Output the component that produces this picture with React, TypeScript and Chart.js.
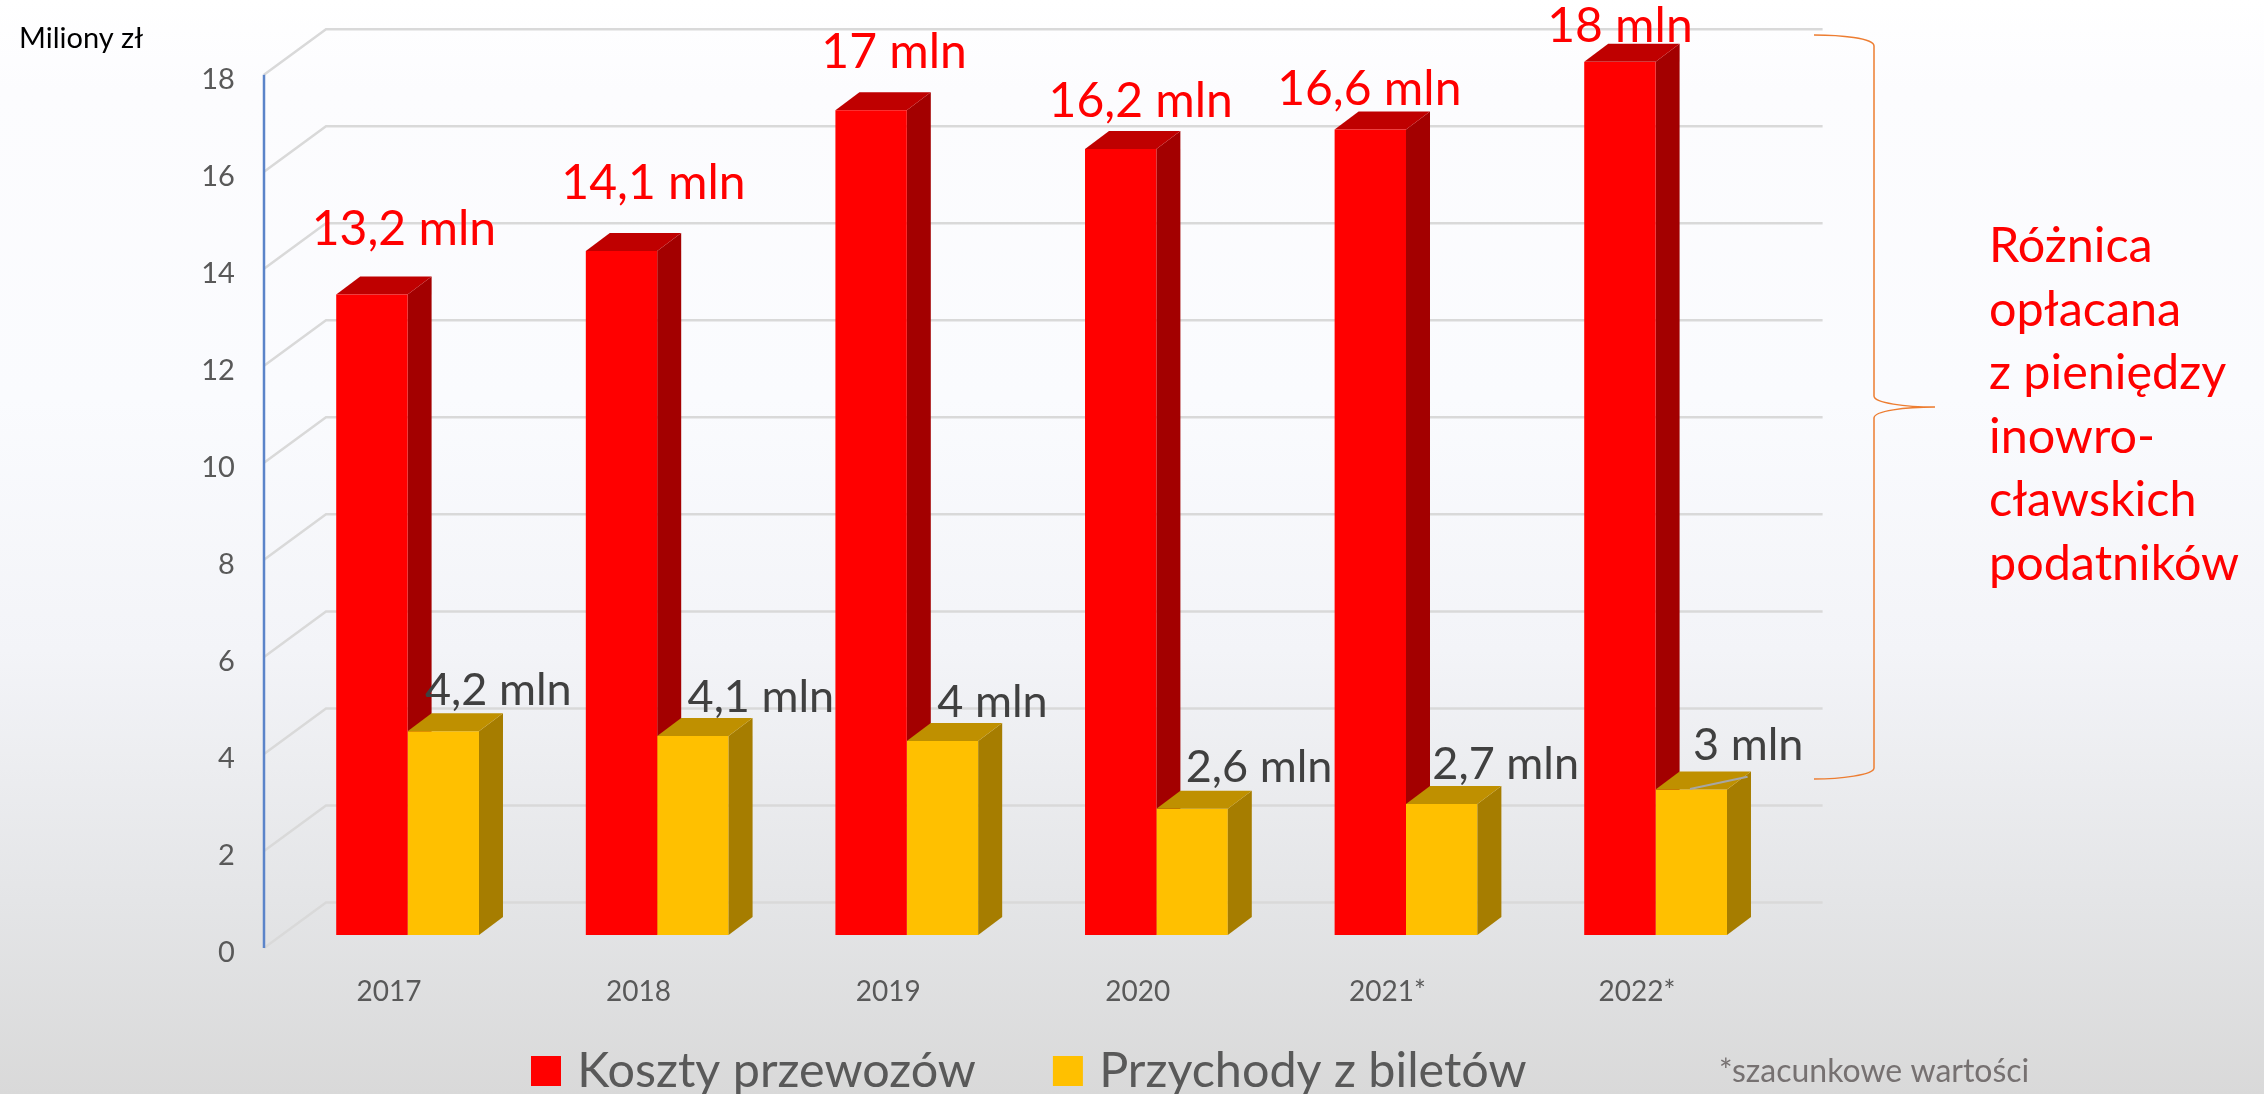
import React, { useEffect, useRef } from "react";
import { Chart, registerables } from "chart.js";

Chart.register(...registerables);

const categories = ["2017", "2018", "2019", "2020", "2021*", "2022*"];
const costs = [13.2, 14.1, 17, 16.2, 16.6, 18];
const revenues = [4.2, 4.1, 4, 2.6, 2.7, 3];
const costName = "Koszty przewozów";
const revenueName = "Przychody z biletów";
const unitLabel = "Miliony zł";
const footnote = "*szacunkowe wartości";
const noteLines = ["Różnica", "opłacana", "z pieniędzy", "inowro-", "cławskich", "podatników"];

const costLabelOffsets = [[32, -65], [32, -67], [23, -58], [20, -48], [-1, -40], [0, -35]];
const revenueLabelOffsets = [[55, -41], [68, -39], [50, -38], [67, -41], [64, -40], [57, -44]];

const W = 2264;
const H = 1094;
const FONT = "Lato, Carlito, sans-serif";
const PLOT = { left: 282.8, right: 1780.4, top: 61.7, bottom: 935 };
const DEPTH = { x: 24, y: 18 };
const LEGEND = { font: 48.5, pad: 85, x: 539, y: 1056, box: 30, slot: 14 };

const fmt = (v: number) => String(v).replace(".", ",") + " mln";

function poly(ctx: CanvasRenderingContext2D, pts: number[][], fill: string) {
  ctx.beginPath();
  pts.forEach(([x, y], i) => (i ? ctx.lineTo(x, y) : ctx.moveTo(x, y)));
  ctx.closePath();
  ctx.fillStyle = fill;
  ctx.fill();
}

function drawDepth(chart: any, idx: number, side: string, top: string) {
  const ctx = chart.ctx as CanvasRenderingContext2D;
  chart.getDatasetMeta(idx).data.forEach((b: any) => {
    const l = b.x - b.width / 2;
    const r = b.x + b.width / 2;
    poly(ctx, [[r, b.y], [r + DEPTH.x, b.y - DEPTH.y], [r + DEPTH.x, b.base - DEPTH.y], [r, b.base]], side);
    poly(ctx, [[l, b.y], [l + DEPTH.x, b.y - DEPTH.y], [r + DEPTH.x, b.y - DEPTH.y], [r, b.y]], top);
  });
}

const scene = {
  id: "scene",
  afterLayout(chart: any) {
    const lg = chart.legend;
    lg.left = LEGEND.x - LEGEND.pad;
    lg.right = W;
    lg.top = LEGEND.y - LEGEND.pad - (LEGEND.font - LEGEND.box) / 2;
    lg.bottom = H;
    // tick labels are clipped to the scale's box: let it reach the page bottom
    chart.scales.x.bottom = H;
  },
  beforeDatasetsDraw(chart: any) {
    const ctx = chart.ctx as CanvasRenderingContext2D;
    const y = chart.scales.y;
    const frontDy = 13;
    const backDy = -32.5;
    const wallFront = 264;
    const wallBack = 326;
    const wallRight = 1822.6;
    ctx.save();
    ctx.strokeStyle = "#D9D9D9";
    ctx.lineWidth = 2.5;
    y.ticks.forEach((t: any) => {
      const p = y.getPixelForValue(t.value);
      ctx.beginPath();
      ctx.moveTo(wallFront, p + frontDy);
      ctx.lineTo(wallBack, p + backDy);
      ctx.lineTo(wallRight, p + backDy);
      ctx.stroke();
    });
    ctx.strokeStyle = "#5B84C9";
    ctx.lineWidth = 2.5;
    ctx.beginPath();
    ctx.moveTo(wallFront, y.getPixelForValue(18) + frontDy);
    ctx.lineTo(wallFront, y.getPixelForValue(0) + frontDy);
    ctx.stroke();
    drawDepth(chart, 0, "#A30000", "#BF0000");
    ctx.restore();
  },
  afterDatasetsDraw(chart: any) {
    const ctx = chart.ctx as CanvasRenderingContext2D;
    ctx.save();
    drawDepth(chart, 1, "#A67D00", "#BF9000");

    // leader line of the last revenue label
    ctx.strokeStyle = "#A6A6A6";
    ctx.lineWidth = 2;
    ctx.beginPath();
    ctx.moveTo(1690, 789);
    ctx.lineTo(1747.6, 776.7);
    ctx.stroke();

    // value labels
    ctx.textAlign = "center";
    ctx.textBaseline = "middle";
    ctx.font = `48px ${FONT}`;
    chart.getDatasetMeta(0).data.forEach((b: any, i: number) => {
      ctx.fillStyle = "#FF0000";
      ctx.fillText(fmt(costs[i]), b.x + costLabelOffsets[i][0], b.y + costLabelOffsets[i][1]);
    });
    ctx.font = `45px ${FONT}`;
    chart.getDatasetMeta(1).data.forEach((b: any, i: number) => {
      ctx.fillStyle = "#404040";
      ctx.fillText(fmt(revenues[i]), b.x + revenueLabelOffsets[i][0], b.y + revenueLabelOffsets[i][1]);
    });

    // curly brace
    ctx.strokeStyle = "#ED7D31";
    ctx.lineWidth = 1.5;
    ctx.beginPath();
    ctx.moveTo(1814, 35);
    ctx.bezierCurveTo(1840, 35, 1874, 38, 1874, 46);
    ctx.lineTo(1874, 396);
    ctx.bezierCurveTo(1874, 403, 1905, 407, 1935, 407);
    ctx.bezierCurveTo(1905, 407, 1874, 411, 1874, 418);
    ctx.lineTo(1874, 768);
    ctx.bezierCurveTo(1874, 775, 1840, 779, 1814, 779);
    ctx.stroke();

    // side note
    ctx.textAlign = "left";
    ctx.textBaseline = "alphabetic";
    ctx.fillStyle = "#FF0000";
    ctx.font = `48.5px ${FONT}`;
    noteLines.forEach((line, i) => ctx.fillText(line, 1989, 262 + i * 63.6));

    // unit label
    ctx.fillStyle = "#000000";
    ctx.font = `29px ${FONT}`;
    ctx.fillText(unitLabel, 19, 48);

    // footnote
    ctx.fillStyle = "#767171";
    ctx.font = `32px ${FONT}`;
    ctx.fillText(footnote, 1719, 1082);
    ctx.restore();
  },
};

export default function App() {
  const ref = useRef<HTMLCanvasElement | null>(null);
  useEffect(() => {
    if (!ref.current) return;
    const chart = new Chart(ref.current, {
      type: "bar",
      data: {
        labels: categories,
        datasets: [
          { label: costName, data: costs, backgroundColor: "#FF0000", borderWidth: 0 },
          { label: revenueName, data: revenues, backgroundColor: "#FFC000", borderWidth: 0 },
        ],
      },
      plugins: [scene],
      options: {
        responsive: false,
        animation: false,
        layout: {
          padding: { left: 0, top: PLOT.top, right: W - PLOT.right, bottom: 0 },
        },
        datasets: { bar: { categoryPercentage: 0.572, barPercentage: 1 } },
        scales: {
          x: {
            grid: { display: false },
            border: { display: false },
            afterFit: (s: any) => {
              s.height = H - PLOT.bottom - (LEGEND.font + LEGEND.pad + 10);
            },
            ticks: {
              autoSkip: false,
              maxRotation: 0,
              minRotation: 0,
              padding: 32,
              labelOffset: -18.6,
              color: "#595959",
              font: { family: FONT, size: 28 },
            },
          },
          y: {
            min: 0,
            max: 18,
            grid: { display: false },
            border: { display: false },
            afterFit: (s: any) => {
              s.width = PLOT.left;
            },
            ticks: {
              stepSize: 2,
              padding: 40,
              labelOffset: 18,
              color: "#595959",
              font: { family: FONT, size: 29 },
            },
          },
        },
        plugins: {
          tooltip: { enabled: false },
          legend: {
            position: "bottom",
            align: "start",
            labels: {
              usePointStyle: true,
              pointStyle: "rect",
              boxWidth: LEGEND.slot,
              boxHeight: LEGEND.box,
              padding: LEGEND.pad,
              color: "#595959",
              font: { family: FONT, size: LEGEND.font },
            },
          },
        },
      },
    } as any);
    return () => chart.destroy();
  }, []);
  return (
    <div
      style={{
        position: "fixed",
        inset: 0,
        overflow: "hidden",
        background:
          "linear-gradient(180deg, #FFFFFF 0, #FCFCFE 90px, #FAFBFE 400px, #F3F4F8 650px, #E4E5E7 900px, #D9D9D9 1094px)",
      }}
    >
      <canvas
        ref={ref}
        width={W}
        height={H}
        style={{ position: "absolute", left: 0, top: 0, display: "block" }}
      />
    </div>
  );
}
